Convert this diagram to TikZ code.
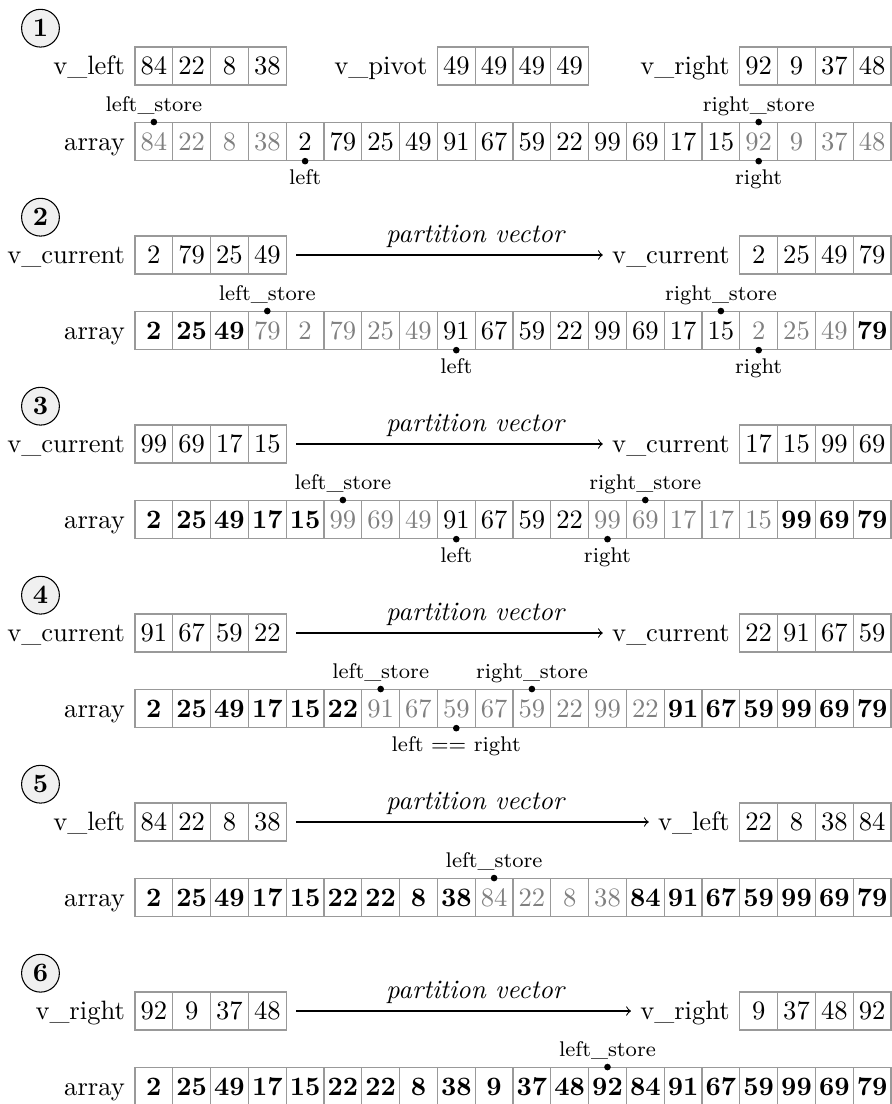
\documentclass[tikz,border=0pt]{standalone}
\definecolor{cellgray}{gray}{0.6}
\definecolor{txtgray}{gray}{0.5}
\tikzset{
 cell/.style={draw=cellgray, line width=0.5pt, minimum width=0.5cm, minimum height=0.5cm, inner sep=0pt, anchor=center},
 cn/.style={}, cg/.style={text=txtgray}, cb/.style={font=\bfseries},
 num/.style={circle, draw, fill=gray!12, minimum size=0.5cm, inner sep=0pt, font=\bfseries},
 vlab/.style={anchor=base east},
 ptdot/.style={circle, fill, inner sep=0pt, minimum size=2.5pt},
 ptlab/.style={font=\footnotesize, inner sep=0pt},
 pvec/.style={font=\itshape},
}
\newcommand{\cellrow}[4]{\foreach \v/\s [count=\i] in {#4} {\node[cell,\s] (#1-\i) at ({#2+\i-0.5},#3) {\v};}}
\newcommand{\rowlab}[3]{\node[vlab] (#1) at ([yshift=-3.22pt]#2.west) {#3};}
\newcommand{\ptop}[3]{\node[ptdot] (#1) at (#2.north) {}; \node[ptlab, anchor=base] (#1t) at ([yshift=4pt]#1.center) {#3};}
\newcommand{\pbot}[3]{\node[ptdot] (#1) at (#2.south) {}; \node[ptlab, anchor=north] (#1t) at ([yshift=-3pt]#1.center) {#3};}
\begin{document}
\begin{tikzpicture}[x=0.5cm,y=0.5cm]
\useasboundingbox (-3.571,1.746) rectangle (20,-27.46);
% ---------- 1
\node[num] (c1) at (-2.5,1) {1};
\cellrow{l1}{0}{0}{84/cn,22/cn,8/cn,38/cn}
\rowlab{l1lab}{l1-1}{v\_left}
\cellrow{p1}{8}{0}{49/cn,49/cn,49/cn,49/cn}
\rowlab{p1lab}{p1-1}{v\_pivot}
\cellrow{r1}{16}{0}{92/cn,9/cn,37/cn,48/cn}
\rowlab{r1lab}{r1-1}{v\_right}
\cellrow{a1}{0}{-2}{84/cg,22/cg,8/cg,38/cg,2/cn,79/cn,25/cn,49/cn,91/cn,67/cn,59/cn,22/cn,99/cn,69/cn,17/cn,15/cn,92/cg,9/cg,37/cg,48/cg}
\rowlab{a1lab}{a1-1}{array}
\ptop{s1ls}{a1-1}{left\_store}
\ptop{s1rs}{a1-17}{right\_store}
\pbot{s1l}{a1-5}{left}
\pbot{s1r}{a1-17}{right}
% ---------- 2
\node[num] (c2) at (-2.5,-4) {2};
\cellrow{l2}{0}{-5}{2/cn,79/cn,25/cn,49/cn}
\rowlab{l2lab}{l2-1}{v\_current}
\cellrow{r2}{16}{-5}{2/cn,25/cn,49/cn,79/cn}
\rowlab{r2lab}{r2-1}{v\_current}
\node[pvec] (t2) at (9,-4.5) {partition vector};
\draw[->] ([xshift=3.5pt]l2-4.east) -- (r2lab.west |- r2-1.west);
\cellrow{a2}{0}{-7}{2/cb,25/cb,49/cb,79/cg,2/cg,79/cg,25/cg,49/cg,91/cn,67/cn,59/cn,22/cn,99/cn,69/cn,17/cn,15/cn,2/cg,25/cg,49/cg,79/cb}
\rowlab{a2lab}{a2-1}{array}
\ptop{s2ls}{a2-4}{left\_store}
\ptop{s2rs}{a2-16}{right\_store}
\pbot{s2l}{a2-9}{left}
\pbot{s2r}{a2-17}{right}
% ---------- 3
\node[num] (c3) at (-2.5,-9) {3};
\cellrow{l3}{0}{-10}{99/cn,69/cn,17/cn,15/cn}
\rowlab{l3lab}{l3-1}{v\_current}
\cellrow{r3}{16}{-10}{17/cn,15/cn,99/cn,69/cn}
\rowlab{r3lab}{r3-1}{v\_current}
\node[pvec] (t3) at (9,-9.5) {partition vector};
\draw[->] ([xshift=3.5pt]l3-4.east) -- (r3lab.west |- r3-1.west);
\cellrow{a3}{0}{-12}{2/cb,25/cb,49/cb,17/cb,15/cb,99/cg,69/cg,49/cg,91/cn,67/cn,59/cn,22/cn,99/cg,69/cg,17/cg,17/cg,15/cg,99/cb,69/cb,79/cb}
\rowlab{a3lab}{a3-1}{array}
\ptop{s3ls}{a3-6}{left\_store}
\ptop{s3rs}{a3-14}{right\_store}
\pbot{s3l}{a3-9}{left}
\pbot{s3r}{a3-13}{right}
% ---------- 4
\node[num] (c4) at (-2.5,-14) {4};
\cellrow{l4}{0}{-15}{91/cn,67/cn,59/cn,22/cn}
\rowlab{l4lab}{l4-1}{v\_current}
\cellrow{r4}{16}{-15}{22/cn,91/cn,67/cn,59/cn}
\rowlab{r4lab}{r4-1}{v\_current}
\node[pvec] (t4) at (9,-14.5) {partition vector};
\draw[->] ([xshift=3.5pt]l4-4.east) -- (r4lab.west |- r4-1.west);
\cellrow{a4}{0}{-17}{2/cb,25/cb,49/cb,17/cb,15/cb,22/cb,91/cg,67/cg,59/cg,67/cg,59/cg,22/cg,99/cg,22/cg,91/cb,67/cb,59/cb,99/cb,69/cb,79/cb}
\rowlab{a4lab}{a4-1}{array}
\ptop{s4ls}{a4-7}{left\_store}
\ptop{s4rs}{a4-11}{right\_store}
\pbot{s4l}{a4-9}{left == right}
% ---------- 5
\node[num] (c5) at (-2.5,-19) {5};
\cellrow{l5}{0}{-20}{84/cn,22/cn,8/cn,38/cn}
\rowlab{l5lab}{l5-1}{v\_left}
\cellrow{r5}{16}{-20}{22/cn,8/cn,38/cn,84/cn}
\rowlab{r5lab}{r5-1}{v\_left}
\node[pvec] (t5) at (9,-19.5) {partition vector};
\draw[->] ([xshift=3.5pt]l5-4.east) -- (r5lab.west |- r5-1.west);
\cellrow{a5}{0}{-22}{2/cb,25/cb,49/cb,17/cb,15/cb,22/cb,22/cb,8/cb,38/cb,84/cg,22/cg,8/cg,38/cg,84/cb,91/cb,67/cb,59/cb,99/cb,69/cb,79/cb}
\rowlab{a5lab}{a5-1}{array}
\ptop{s5ls}{a5-10}{left\_store}
% ---------- 6
\node[num] (c6) at (-2.5,-24) {6};
\cellrow{l6}{0}{-25}{92/cn,9/cn,37/cn,48/cn}
\rowlab{l6lab}{l6-1}{v\_right}
\cellrow{r6}{16}{-25}{9/cn,37/cn,48/cn,92/cn}
\rowlab{r6lab}{r6-1}{v\_right}
\node[pvec] (t6) at (9,-24.5) {partition vector};
\draw[->] ([xshift=3.5pt]l6-4.east) -- (r6lab.west |- r6-1.west);
\cellrow{a6}{0}{-27}{2/cb,25/cb,49/cb,17/cb,15/cb,22/cb,22/cb,8/cb,38/cb,9/cb,37/cb,48/cb,92/cb,84/cb,91/cb,67/cb,59/cb,99/cb,69/cb,79/cb}
\rowlab{a6lab}{a6-1}{array}
\ptop{s6ls}{a6-13}{left\_store}
\end{tikzpicture}
\end{document}
